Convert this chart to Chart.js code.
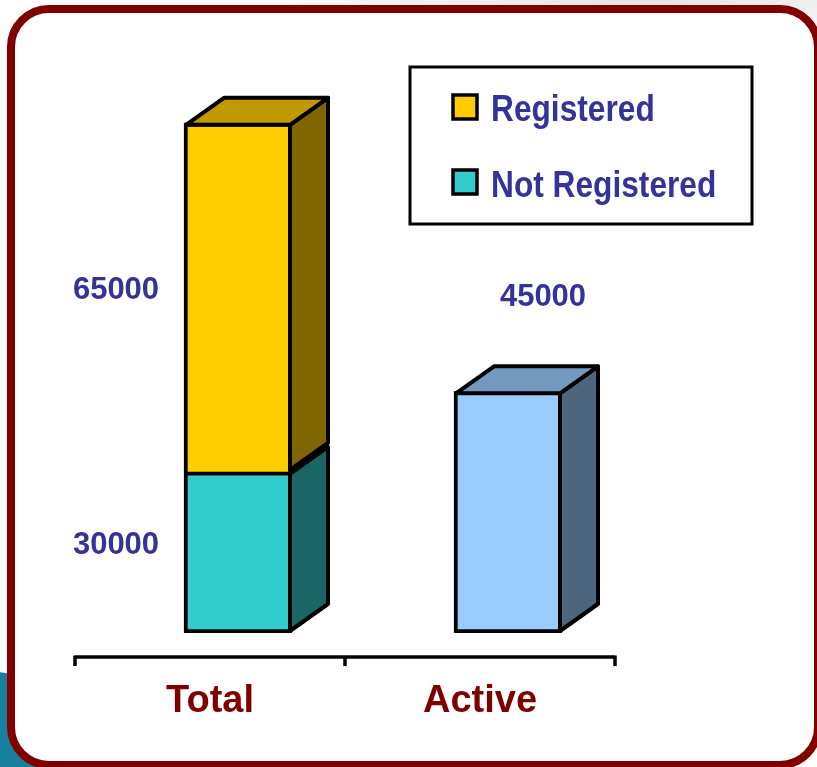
<!DOCTYPE html>
<html>
<head>
<meta charset="utf-8">
<script src="https://cdn.jsdelivr.net/npm/chart.js@4"></script>
<style>
  html, body { margin: 0; padding: 0; }
  body {
    width: 817px; height: 767px; overflow: hidden; position: relative;
    background: radial-gradient(ellipse 420px 60px at 640px 0px, #e4e4e4, #ffffff);
  }
  #blob {
    position: absolute; left: -90px; top: 672px; width: 170px; height: 220px;
    border-radius: 50%; background: #17809c;
  }
  #frame {
    position: absolute; left: 7px; top: 5px; width: 815px; height: 764px;
    box-sizing: border-box; border: 8px solid #800000; border-radius: 42px;
    background: #ffffff;
  }
  #chart { position: absolute; left: 0; top: 0; }
</style>
</head>
<body>
<div id="blob"></div>
<div id="frame"></div>
<canvas id="chart" width="817" height="767"></canvas>
<script>
let categories = ['Total', 'Active']
let notRegistered = [30000, null]
let registered = [65000, null]
let active = [null, 45000]

let color_yellow = '#FFCC00'
let color_yellow_top = '#BF9900'
let color_yellow_side = '#806600'
let color_teal = '#33CCCC'
let color_teal_top = '#269999'
let color_teal_side = '#1A6666'
let color_blue = '#99CCFF'
let color_blue_top = '#7399BF'
let color_blue_side = '#4D6680'
let color_text_blue = '#333399'
let color_dark_red = '#800000'

let depthX = 38
let depthY = -27
let edge = 4
let fontFamily = '"Liberation Sans", Arial, sans-serif'

// top and side faces of each bar, so the bars look like boxes
let boxPlugin = {
    id: 'box3d',
    afterDatasetsDraw: function (chart) {
        let ctx = chart.ctx
        let n = chart.data.labels.length
        for (let i = 0; i < n; i++) {
            let topIndex = -1
            chart.data.datasets.forEach(function (ds, d) {
                if (ds.data[i] != null) topIndex = d
            })
            chart.data.datasets.forEach(function (ds, d) {
                if (ds.data[i] == null) return
                let el = chart.getDatasetMeta(d).data[i]
                let p = el.getProps(['x', 'y', 'base', 'width'], true)
                let h = edge / 2
                let left = p.x - p.width / 2 + h
                let right = p.x + p.width / 2 - h
                let top = p.y + h
                let bottom = p.base - h
                ctx.save()
                ctx.lineWidth = edge
                ctx.lineJoin = 'round'
                ctx.strokeStyle = '#000'
                ctx.beginPath()
                ctx.moveTo(right, top)
                ctx.lineTo(right + depthX, top + depthY)
                ctx.lineTo(right + depthX, bottom + depthY)
                ctx.lineTo(right, bottom)
                ctx.closePath()
                ctx.fillStyle = ds.sideColor
                ctx.fill()
                ctx.stroke()
                if (d === topIndex) {
                    ctx.beginPath()
                    ctx.moveTo(left, top)
                    ctx.lineTo(left + depthX, top + depthY)
                    ctx.lineTo(right + depthX, top + depthY)
                    ctx.lineTo(right, top)
                    ctx.closePath()
                    ctx.fillStyle = ds.topColor
                    ctx.fill()
                    ctx.stroke()
                }
                ctx.restore()
            })
        }
    }
}

let valueLabelPlugin = {
    id: 'valueLabels',
    afterDraw: function (chart) {
        let ctx = chart.ctx
        ctx.save()
        ctx.font = 'bold 31px ' + fontFamily
        ctx.fillStyle = color_text_blue
        ctx.textAlign = 'center'
        ctx.textBaseline = 'middle'
        chart.data.datasets.forEach(function (ds, d) {
            chart.getDatasetMeta(d).data.forEach(function (el, i) {
                let v = ds.data[i]
                if (v == null) return
                let p = el.getProps(['x', 'y', 'base'], true)
                if (ds.labelPlace === 'left') {
                    ctx.fillText(String(v), p.x - 122, (p.y + p.base) / 2 - 7)
                } else {
                    ctx.fillText(String(v), p.x + 35, p.y - 94)
                }
            })
        })
        ctx.restore()
    }
}

// floor line with ticks and category names, set slightly to the left like the 3D floor
let floorPlugin = {
    id: 'floor',
    afterDraw: function (chart) {
        let ctx = chart.ctx
        let xs = chart.scales.x
        let area = chart.chartArea
        let shift = -28
        let lineY = area.bottom + 24
        ctx.save()
        ctx.strokeStyle = '#000'
        ctx.lineWidth = 3.5
        ctx.beginPath()
        ctx.moveTo(area.left + shift, lineY)
        ctx.lineTo(area.right + shift, lineY)
        let step = (area.right - area.left) / categories.length
        for (let k = 0; k <= categories.length; k++) {
            let tx = area.left + shift + step * k
            ctx.moveTo(tx, lineY - 1.5)
            ctx.lineTo(tx, lineY + 9)
        }
        ctx.stroke()
        ctx.font = 'bold 38px ' + fontFamily
        ctx.fillStyle = color_dark_red
        ctx.textAlign = 'center'
        ctx.textBaseline = 'alphabetic'
        categories.forEach(function (c, i) {
            ctx.fillText(c, xs.getPixelForValue(i) + shift, lineY + 55)
        })
        ctx.restore()
    }
}

let legendPlugin = {
    id: 'boxLegend',
    afterDraw: function (chart) {
        let ctx = chart.ctx
        let items = [chart.data.datasets[1], chart.data.datasets[0]]
        ctx.save()
        ctx.fillStyle = '#fff'
        ctx.fillRect(410, 67, 342, 157)
        ctx.strokeStyle = '#000'
        ctx.lineWidth = 3
        ctx.strokeRect(410, 67, 342, 157)
        items.forEach(function (ds, k) {
            let sy = 95 + k * 75
            ctx.fillStyle = ds.backgroundColor
            ctx.fillRect(453, sy, 24, 24)
            ctx.lineWidth = 3.5
            ctx.strokeRect(453, sy, 24, 24)
            ctx.save()
            ctx.translate(491, 121 + k * 76)
            ctx.scale(0.88, 1)
            ctx.font = 'bold 36px ' + fontFamily
            ctx.fillStyle = color_text_blue
            ctx.textBaseline = 'alphabetic'
            ctx.fillText(ds.label, 0, 0)
            ctx.restore()
        })
        ctx.restore()
    }
}

let chartDraw = function () {
    let ctx = document.getElementById('chart').getContext('2d')
    window.barChart = new Chart(ctx, {
        type: 'bar',
        data: {
            labels: categories,
            datasets: [{
                label: 'Not Registered',
                data: notRegistered,
                backgroundColor: color_teal,
                topColor: color_teal_top,
                sideColor: color_teal_side,
                borderSkipped: false,
                labelPlace: 'left'
            }, {
                label: 'Registered',
                data: registered,
                backgroundColor: color_yellow,
                topColor: color_yellow_top,
                sideColor: color_yellow_side,
                borderSkipped: 'start',
                labelPlace: 'left'
            }, {
                label: 'Active',
                data: active,
                backgroundColor: color_blue,
                topColor: color_blue_top,
                sideColor: color_blue_side,
                borderSkipped: false,
                labelPlace: 'top'
            }]
        },
        options: {
            responsive: false,
            animation: false,
            layout: { padding: { left: 103, right: 174, top: 96, bottom: 134 } },
            datasets: {
                bar: { barThickness: 108, borderWidth: edge, borderColor: '#000' }
            },
            scales: {
                x: { stacked: true, display: false },
                y: { stacked: true, display: false, min: 0, max: 100000 }
            },
            plugins: {
                legend: { display: false },
                tooltip: { enabled: false }
            }
        },
        plugins: [boxPlugin, valueLabelPlugin, floorPlugin, legendPlugin]
    })
}

window.addEventListener('load', function () {
    chartDraw()
})
</script>
</body>
</html>
